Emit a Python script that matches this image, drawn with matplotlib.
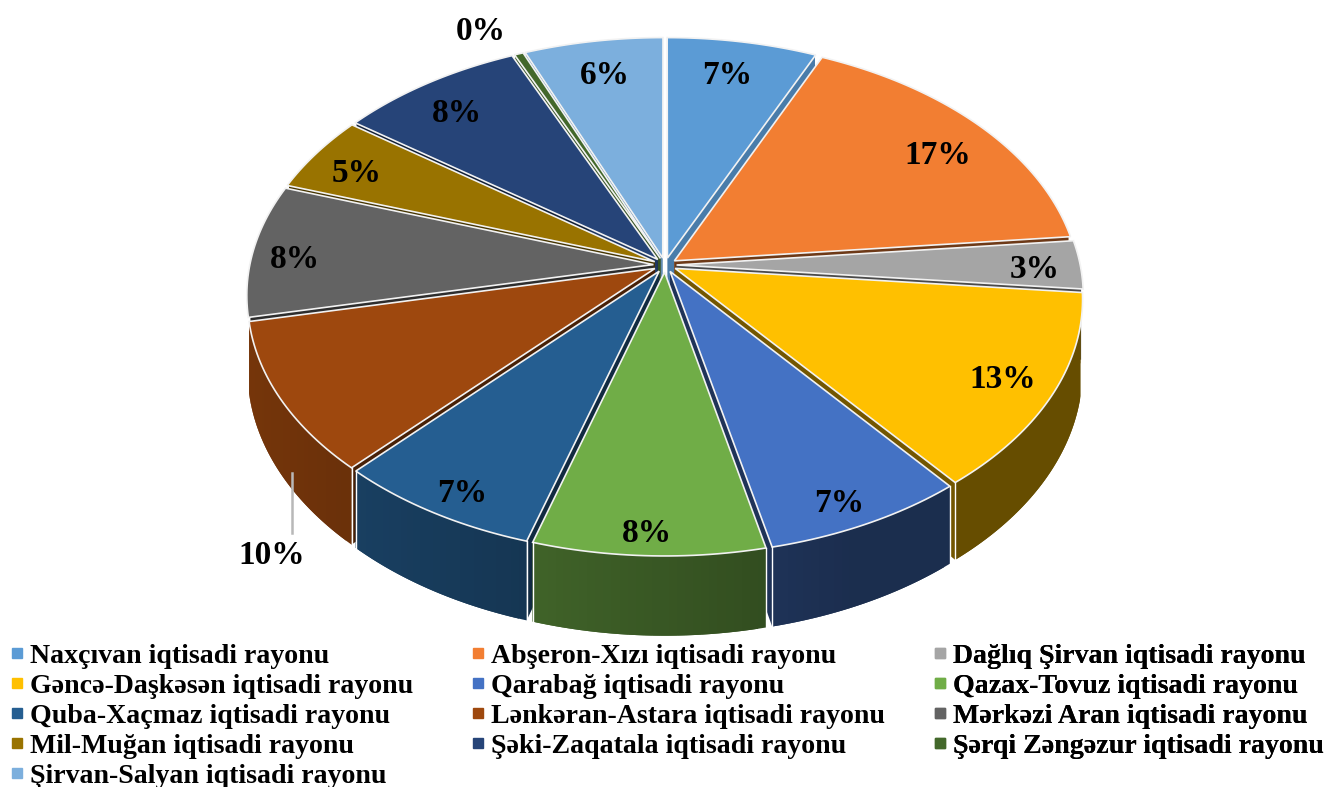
import numpy as np
import matplotlib
matplotlib.use("Agg")
import matplotlib.pyplot as plt
from matplotlib.colors import to_rgb
from matplotlib.lines import Line2D

plt.rcParams['font.family'] = ['Liberation Serif', 'DejaVu Serif']
plt.rcParams['font.weight'] = 'bold'

regions = ["Naxçıvan iqtisadi rayonu", "Abşeron-Xızı iqtisadi rayonu", "Dağlıq Şirvan iqtisadi rayonu",
           "Gəncə-Daşkəsən iqtisadi rayonu", "Qarabağ iqtisadi rayonu", "Qazax-Tovuz iqtisadi rayonu",
           "Quba-Xaçmaz iqtisadi rayonu", "Lənkəran-Astara iqtisadi rayonu", "Mərkəzi Aran iqtisadi rayonu",
           "Mil-Muğan iqtisadi rayonu", "Şəki-Zaqatala iqtisadi rayonu", "Şərqi Zəngəzur iqtisadi rayonu",
           "Şirvan-Salyan iqtisadi rayonu"]
values = [6.7, 16.7, 3.1, 12.7, 7.2, 8.2, 7.3, 9.7, 8.5, 4.9, 8.3, 0.4, 6.2]
colors = ["#5B9BD5", "#F27E32", "#A5A5A5", "#FFC000", "#4472C4", "#70AD47", "#255E91",
          "#9E480E", "#636363", "#997300", "#264478", "#43682B", "#7CAFDD"]

# label centres in pixels
label_xy = [(727, 75), (938, 155), (1035, 270), (1003, 380), (839, 503), (647, 533), (462, 493),
            (272, 556), (295, 259), (357, 174), (457, 113), (481, 32), (605, 75)]

# fake 3d camera, all in pixels
CX, CY = 665, 265
A, B, K = 414, 254.6, 0.122
DEPTH = 70
RADIUS = 0.975
EXPLODE = 0.028


def project(u, v, z=0.0):
    s = 1 / (1 + K * v)
    return CX + A * u * s, CY - B * v * s + DEPTH * z * s


def shade(color, f):
    return tuple(c * f for c in to_rgb(color))


fig = plt.figure(figsize=(13.27, 7.87), dpi=100)
ax = fig.add_axes([0, 0, 1, 1])
ax.set_xlim(0, 1327)
ax.set_ylim(787, 0)
ax.axis("off")

# leader line for 10%
ax.plot([292, 292], [473, 533], color="#b8b8b8", lw=1.8)

edges = np.cumsum([0] + values) / sum(values) * 2 * np.pi
order = sorted(range(len(values)), key=lambda i: -np.cos((edges[i] + edges[i + 1]) / 2))

for i in order:
    t0, t1 = edges[i], edges[i + 1]
    mid = (t0 + t1) / 2
    ox, oy = EXPLODE * np.sin(mid), EXPLODE * np.cos(mid)
    col = colors[i]
    th = np.linspace(t0, t1, max(int(np.degrees(t1 - t0)), 2) + 1)
    u = ox + RADIUS * np.sin(th)
    v = oy + RADIUS * np.cos(th)

    # cut faces, pulled in a bit near the back so they don't poke out
    for k in (0, -1):
        f = 0.8 if np.cos(th[k]) > 0.6 else 0.45
        r = 1.0 if np.cos(th[k]) < -0.25 else 0.995
        ex, ey = ox + (u[k] - ox) * r, oy + (v[k] - oy) * r
        xs, ys = zip(project(ox, oy), project(ex, ey), project(ex, ey, 1), project(ox, oy, 1))
        ax.fill(xs, ys, fc=shade(col, f), ec="none")

    # outer wall, darker to the right. strips overlap to hide the seams
    for k in range(len(th) - 1):
        if np.cos(th[k]) > -0.22 and np.cos(th[k + 1]) > -0.22:
            continue
        f = max(0.4, 0.5 - 0.25 * (u[k] + u[k + 1]) / 2)
        n = min(k + 2, len(th) - 1)
        us, vs = u[k:n + 1], v[k:n + 1]
        bx, by = project(us, vs)
        lx, ly = project(us, vs, 1)
        ax.fill(np.r_[bx, lx[::-1]], np.r_[by, ly[::-1]], fc=shade(col, f), ec="none")
    for k in (0, -1):
        if np.cos(th[k]) < -0.35:
            xs, ys = zip(project(u[k], v[k]), project(u[k], v[k], 1))
            ax.plot(xs, ys, color="white", lw=1.0)

    # top face
    tx, ty = project(np.r_[ox, u], np.r_[oy, v])
    ax.fill(tx, ty, fc=col, ec="#f2f2f2", lw=1.2, joinstyle="miter")

for val, (x, y) in zip(values, label_xy):
    ax.text(x, y, "%.0f%%" % val, ha="center", va="center", fontsize=24, color="black")

# legend, three separate columns so they sit where the original has them
col_pos = [(9, 643), (470, 643), (932, 643)]
for c, (x, y) in enumerate(col_pos):
    idx = range(c, len(regions), 3)
    handles = [Line2D([], [], ls="", marker="s", ms=6.5, color=colors[i]) for i in idx]
    leg = ax.legend(handles, [regions[i] for i in idx], loc="upper left", bbox_to_anchor=(x, y),
                    bbox_transform=ax.transData, frameon=False, fontsize=20.1, borderpad=0,
                    borderaxespad=0, labelspacing=0.16, handlelength=0.6, handletextpad=0.15,
                    numpoints=1)
    ax.add_artist(leg)

fig.savefig("out.png", dpi=100)
